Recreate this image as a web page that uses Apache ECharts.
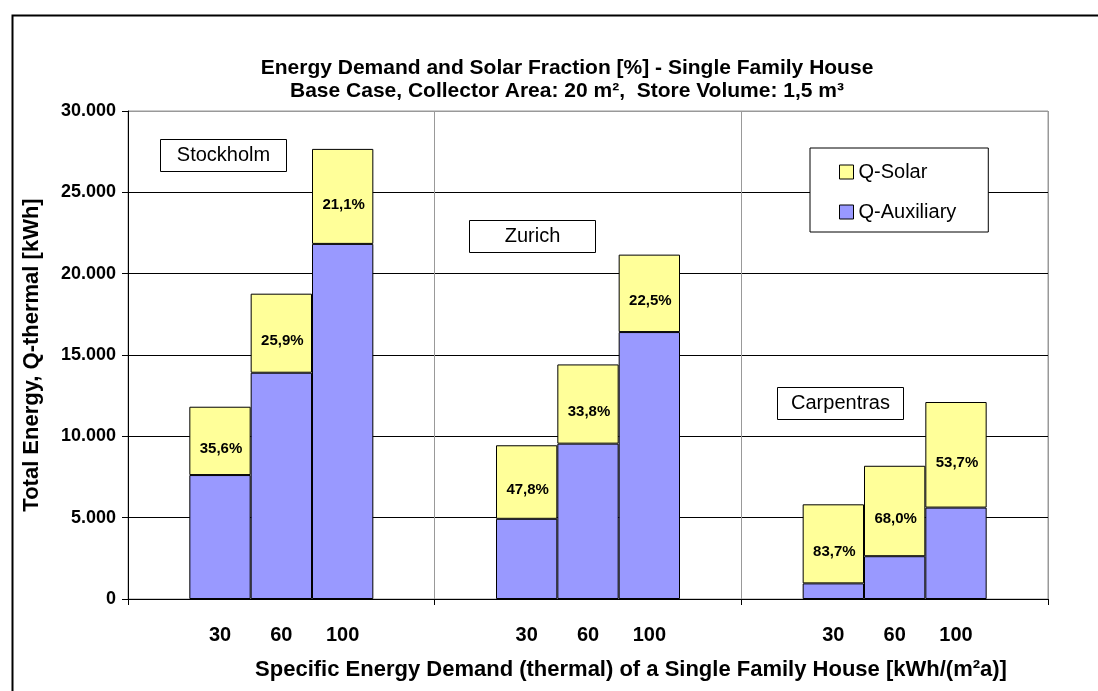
<!DOCTYPE html>
<html>
<head>
<meta charset="utf-8">
<title>Energy Demand and Solar Fraction</title>
<script src="https://cdn.jsdelivr.net/npm/echarts@6/dist/echarts.min.js"></script>
<style>
  html, body { margin: 0; padding: 0; background: #fff; }
  #chart { width: 1098px; height: 691px; }
</style>
</head>
<body>
<div id="chart"></div>
<script>
// values
var cities = ['Stockholm', 'Zurich', 'Carpentras'];
var demand = ['30', '60', '100'];
var auxiliary = [
    [7620, 13910, 21830],
    [4930, 9550, 16410],
    [960, 2630, 5620]
];
var solar = [
    [4200, 4860, 5840],
    [4520, 4870, 4760],
    [4860, 5560, 6490]
];
var fraction = [
    ['35,6%', '25,9%', '21,1%'],
    ['47,8%', '33,8%', '22,5%'],
    ['83,7%', '68,0%', '53,7%']
];

// each city takes 5 slots: empty, 30, 60, 100, empty
var categories = [], auxData = [], solarData = [], labels = [];
cities.forEach(function (c, i) {
    categories.push('');
    auxData.push('-'); solarData.push('-'); labels.push('');
    demand.forEach(function (d, j) {
        categories.push(d);
        auxData.push(auxiliary[i][j]);
        solarData.push(solar[i][j]);
        labels.push(fraction[i][j]);
    });
    categories.push('');
    auxData.push('-'); solarData.push('-'); labels.push('');
});

var font = 'Arial, "Liberation Sans", sans-serif';

function cityBox(name, x, y) {
    return {
        type: 'group', left: x, top: y,
        children: [
            { type: 'rect', shape: { x: 0, y: 0, width: 126, height: 32 },
              style: { fill: '#fff', stroke: '#000', lineWidth: 1 } },
            { type: 'text', x: 63, y: 16,
              style: { text: name, fill: '#000', font: '20px ' + font, align: 'center', verticalAlign: 'middle' } }
        ]
    };
}

var chart = echarts.init(document.getElementById('chart'));

var option = {
    backgroundColor: '#fff',
    animation: false,
    title: {
        text: 'Energy Demand and Solar Fraction [%] - Single Family House\nBase Case, Collector Area: 20 m²,  Store Volume: 1,5 m³',
        left: 562, top: 52, textAlign: 'center',
        textStyle: { fontFamily: font, fontWeight: 'bold', fontSize: 21, lineHeight: 23, color: '#000' }
    },
    legend: {
        orient: 'vertical',
        left: 810, top: 148,
        data: ['Q-Solar', 'Q-Auxiliary'],
        backgroundColor: '#fff',
        borderColor: '#000', borderWidth: 1,
        padding: [14, 32, 10, 29],
        itemGap: 20,
        itemWidth: 14, itemHeight: 14,
        icon: 'rect',
        itemStyle: { borderColor: '#000', borderWidth: 1 },
        textStyle: { fontFamily: font, fontSize: 20, color: '#000' }
    },
    grid: {
        left: 128, right: 50, top: 111, bottom: 92,
        show: true, borderColor: '#999', borderWidth: 1
    },
    xAxis: {
        type: 'category',
        data: categories,
        name: 'Specific Energy Demand (thermal) of a Single Family House [kWh/(m²a)]',
        nameLocation: 'middle', nameGap: 60,
        nameTextStyle: { fontFamily: font, fontWeight: 'bold', fontSize: 22, color: '#000', padding: [0, 0, 0, 86] },
        axisLine: { lineStyle: { color: '#000', width: 1 } },
        axisTick: { show: true, length: 6, interval: function (i) { return i % 5 === 0; }, lineStyle: { color: '#000' } },
        axisLabel: { interval: 0, margin: 26, fontFamily: font, fontWeight: 'bold', fontSize: 20, color: '#000' },
        splitLine: { show: true, interval: function (i) { return i % 5 === 0; }, lineStyle: { color: '#999', width: 1 } }
    },
    yAxis: {
        type: 'value',
        min: 0, max: 30000, interval: 5000,
        name: 'Total Energy, Q-thermal [kWh]',
        nameLocation: 'middle', nameGap: 85, nameRotate: 90,
        nameTextStyle: { fontFamily: font, fontWeight: 'bold', fontSize: 22, color: '#000' },
        axisLine: { show: true, lineStyle: { color: '#000', width: 1 } },
        axisTick: { show: true, length: 6, lineStyle: { color: '#000' } },
        axisLabel: {
            margin: 12, fontFamily: font, fontWeight: 'bold', fontSize: 18, color: '#000',
            formatter: function (v) { return v.toLocaleString('de-DE'); }
        },
        splitLine: { show: true, lineStyle: { color: ['#000', '#000', '#000', '#000', '#000', '#000', '#999'], width: 1 } }
    },
    series: [
        {
            name: 'Q-Auxiliary', type: 'bar', stack: 'total',
            data: auxData,
            barCategoryGap: '0%',
            itemStyle: { color: '#9999FF', borderColor: '#000', borderWidth: 1 }
        },
        {
            name: 'Q-Solar', type: 'bar', stack: 'total',
            data: solarData,
            barCategoryGap: '0%',
            itemStyle: { color: '#FFFF99', borderColor: '#000', borderWidth: 1 },
            label: {
                show: true, position: 'inside', offset: [1, 8],
                fontFamily: font, fontWeight: 'bold', fontSize: 15, color: '#000',
                formatter: function (p) { return labels[p.dataIndex]; }
            }
        }
    ],
    graphic: [
        { type: 'rect', left: 10, top: 13, z: -10,
          shape: { x: 0, y: 0, width: 1200, height: 800 },
          style: { fill: 'none', stroke: '#000', lineWidth: 2 } },
        cityBox('Stockholm', 160, 139),
        cityBox('Zurich', 469, 220),
        cityBox('Carpentras', 777, 387)
    ]
};

chart.setOption(option);
</script>
</body>
</html>
